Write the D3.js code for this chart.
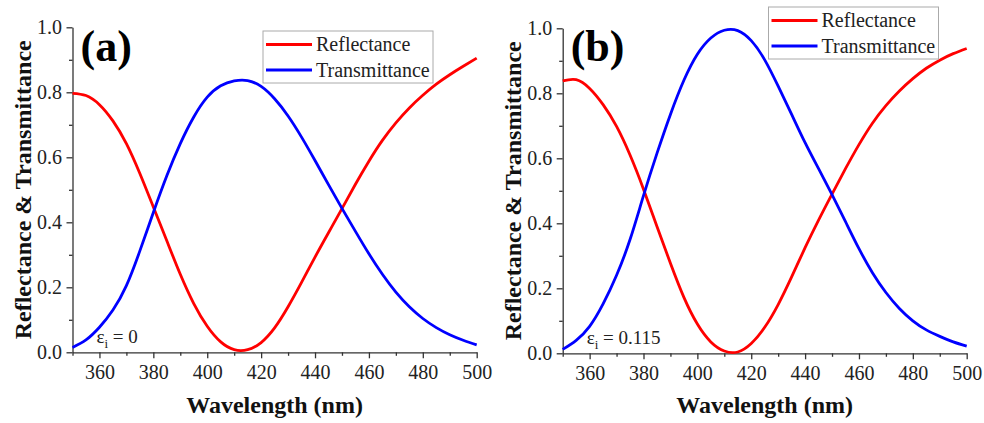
<!DOCTYPE html>
<html>
<head>
<meta charset="utf-8">
<script src="https://cdn.jsdelivr.net/npm/d3@7/dist/d3.min.js"></script>
</head>
<body style="margin:0;background:#fff;">
<div id="chart"></div>
<script>
// wavelength grid (nm), read every 5 nm
const wavelengths = [350, 355, 360, 365, 370, 375, 380, 385, 390, 395, 400, 405, 410, 415, 420, 425,
    430, 435, 440, 445, 450, 455, 460, 465, 470, 475, 480, 485, 490, 495, 500];

// panel (a), eps_i = 0
const reflA = [0.797, 0.790, 0.762, 0.712, 0.642, 0.550, 0.447, 0.343, 0.240, 0.150, 0.080, 0.032, 0.008, 0.008, 0.030, 0.075,
    0.140, 0.215, 0.293, 0.368, 0.442, 0.517, 0.588, 0.652, 0.706, 0.752, 0.791, 0.825, 0.854, 0.880, 0.905];
const transA = [0.015, 0.038, 0.077, 0.130, 0.205, 0.312, 0.430, 0.543, 0.642, 0.724, 0.785, 0.820, 0.835, 0.836, 0.818, 0.780,
    0.727, 0.662, 0.590, 0.516, 0.443, 0.372, 0.303, 0.240, 0.185, 0.140, 0.104, 0.076, 0.054, 0.037, 0.023];

// panel (b), eps_i = 0.115
const reflB = [0.838, 0.842, 0.815, 0.765, 0.698, 0.610, 0.505, 0.390, 0.277, 0.172, 0.090, 0.035, 0.007, 0.004, 0.030, 0.080,
    0.150, 0.235, 0.325, 0.410, 0.490, 0.568, 0.642, 0.708, 0.762, 0.807, 0.845, 0.877, 0.902, 0.922, 0.938];
const transB = [0.012, 0.040, 0.083, 0.152, 0.240, 0.350, 0.485, 0.615, 0.735, 0.840, 0.920, 0.970, 0.994, 0.993, 0.962, 0.903,
    0.822, 0.735, 0.648, 0.568, 0.488, 0.405, 0.322, 0.248, 0.187, 0.138, 0.100, 0.072, 0.052, 0.035, 0.022];

const xTicks = [360, 380, 400, 420, 440, 460, 480, 500];
const xMinor = [350, 370, 390, 410, 430, 450, 470, 490];
const yTicks = [0, 0.2, 0.4, 0.6, 0.8, 1.0];
const yMinor = [0.1, 0.3, 0.5, 0.7, 0.9];

const seriesNames = ["Reflectance", "Transmittance"];
const seriesColors = ["#ff0000", "#0000ff"];

const FONT = "'Liberation Serif'";

const svg = d3.select("#chart").append("svg")
    .attr("width", 984)
    .attr("height", 423)
    .style("display", "block");

function styleAxis(sel) {
    sel.attr("font-family", null);
    sel.selectAll("path, line")
        .style("stroke", "#333")
        .style("stroke-width", "1.3px");
    sel.selectAll("text")
        .style("font-family", FONT)
        .style("font-size", "20px")
        .style("fill", "#222");
}

function drawPanel(p) {
    let g = svg.append("g");

    let x = d3.scaleLinear().domain([350, 500]).range([p.left, p.right]);
    let y = d3.scaleLinear().domain([0, 1]).range([p.bottom, p.top]);

    // minor ticks first, then major axes on top
    let xm = g.append("g")
        .attr("transform", "translate(0," + p.bottom + ")")
        .call(d3.axisBottom(x).tickValues(xMinor).tickSize(3.5).tickSizeOuter(0).tickFormat(""));
    xm.select(".domain").remove();
    xm.selectAll("text").remove();
    styleAxis(xm);
    let ym = g.append("g")
        .attr("transform", "translate(" + p.left + ",0)")
        .call(d3.axisLeft(y).tickValues(yMinor).tickSize(3.5).tickSizeOuter(0).tickFormat(""));
    ym.select(".domain").remove();
    ym.selectAll("text").remove();
    styleAxis(ym);

    g.append("g")
        .attr("transform", "translate(0," + p.bottom + ")")
        .call(d3.axisBottom(x).tickValues(xTicks).tickSize(6).tickSizeOuter(0).tickPadding(7))
        .call(styleAxis);
    g.append("g")
        .attr("transform", "translate(" + p.left + ",0)")
        .call(d3.axisLeft(y).tickValues(yTicks).tickSize(6).tickSizeOuter(0).tickPadding(4.5)
            .tickFormat(d3.format(".1f")))
        .call(styleAxis);

    // curves
    let line = d3.line()
        .x((d, i) => x(wavelengths[i]))
        .y(d => y(d))
        .curve(d3.curveNatural);

    [p.refl, p.trans].forEach((s, i) => {
        g.append("path")
            .datum(s)
            .attr("fill", "none")
            .attr("stroke", seriesColors[i])
            .attr("stroke-width", 2.8)
            .attr("d", line);
    });

    // axis titles
    g.append("text")
        .attr("x", (p.left + p.right) / 2)
        .attr("y", 413)
        .attr("text-anchor", "middle")
        .style("font-family", FONT)
        .style("font-weight", "bold")
        .style("font-size", "24px")
        .style("fill", "#111")
        .text("Wavelength (nm)");

    g.append("text")
        .attr("transform", "translate(" + p.yTitleX + "," + ((p.top + p.bottom) / 2) + ") rotate(-90)")
        .attr("text-anchor", "middle")
        .style("font-family", FONT)
        .style("font-weight", "bold")
        .style("font-size", "24px")
        .style("fill", "#111")
        .text("Reflectance & Transmittance");

    // panel letter
    g.append("text")
        .attr("x", p.left + 8)
        .attr("y", 61)
        .style("font-family", FONT)
        .style("font-weight", "bold")
        .style("font-size", "44px")
        .style("fill", "#000")
        .text(p.letter);

    // epsilon label
    let eps = g.append("text")
        .attr("x", p.left + 24)
        .attr("y", p.bottom - 9.5)
        .style("font-family", FONT)
        .style("font-size", "19px")
        .style("fill", "#222");
    eps.append("tspan").text("ε");
    eps.append("tspan").style("font-size", "13px").attr("dy", 5).text("i");
    eps.append("tspan").attr("dy", -5).text(" = " + p.eps);

    // legend
    let lg = g.append("g").attr("transform", "translate(" + p.legX + "," + p.legY + ")");
    lg.append("rect")
        .attr("width", 170)
        .attr("height", 52)
        .attr("fill", "#fff")
        .attr("stroke", "#aaa")
        .attr("stroke-width", 1);
    seriesNames.forEach((name, i) => {
        lg.append("line")
            .attr("x1", 3).attr("x2", 49)
            .attr("y1", 13.5 + i * 25.5).attr("y2", 13.5 + i * 25.5)
            .attr("stroke", seriesColors[i])
            .attr("stroke-width", 2.8);
        lg.append("text")
            .attr("x", 53)
            .attr("y", 13.5 + i * 25.5)
            .attr("dy", "0.33em")
            .style("font-family", FONT)
            .style("font-size", "20px")
            .style("fill", "#222")
            .text(name);
    });
}

drawPanel({letter: "(a)", eps: "0", refl: reflA, trans: transA,
    left: 72.5, right: 476.7, top: 27.3, bottom: 352.3, yTitleX: 31, legX: 263, legY: 31});
drawPanel({letter: "(b)", eps: "0.115", refl: reflB, trans: transB,
    left: 562.7, right: 966.7, top: 28.3, bottom: 353.3, yTitleX: 521, legX: 768.5, legY: 7});
</script>
</body>
</html>
